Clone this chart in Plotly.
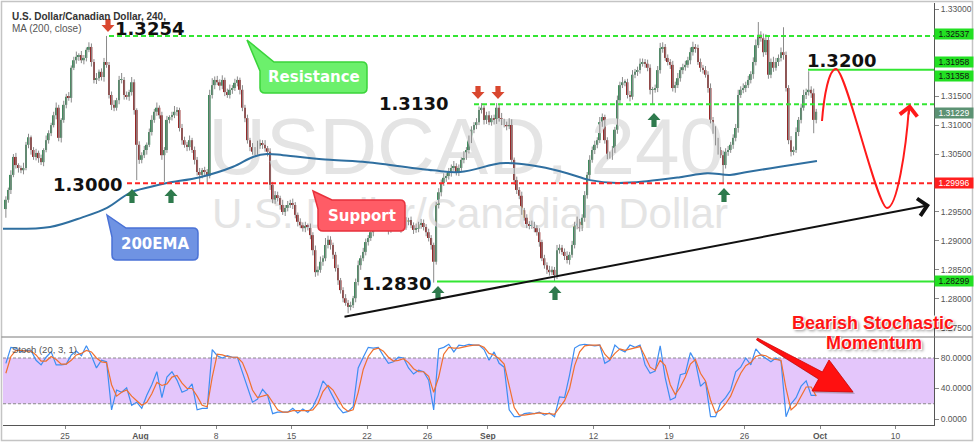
import plotly.graph_objects as go

# ---------------- data ----------------
BARS_PER_DAY = 6          # 240-minute candles
DAY0 = -4.0               # first candle day (0 = Mon 25 Jul)
PIP = 0.0001
FIRST_OPEN = 1.2955

CLOSE = [
 1.2971, 1.2988, 1.3014, 1.3045, 1.3031, 1.3026,
 1.3022, 1.3026, 1.3066, 1.3079, 1.3057, 1.3045,
 1.3052, 1.3043, 1.3036, 1.3057, 1.3074, 1.3086,
 1.3100, 1.3117, 1.3130, 1.3078, 1.3109, 1.3135,
 1.3149, 1.3147, 1.3199, 1.3212, 1.3218, 1.3221,
 1.3212, 1.3216, 1.3230, 1.3235, 1.3209, 1.3178,
 1.3181, 1.3192, 1.3183, 1.3209, 1.3204, 1.3152,
 1.3135, 1.3130, 1.3143, 1.3178, 1.3178, 1.3152,
 1.3149, 1.3157, 1.3174, 1.3126, 1.3066, 1.3040,
 1.3048, 1.3057, 1.3066, 1.3088, 1.3109, 1.3123,
 1.3130, 1.3117, 1.3048, 1.3057, 1.3109, 1.3114,
 1.3117, 1.3123, 1.3126, 1.3095, 1.3074, 1.3066,
 1.3062, 1.3074, 1.3057, 1.3040, 1.3019, 1.3014,
 1.3022, 1.3019, 1.3012, 1.3152, 1.3169, 1.3178,
 1.3174, 1.3168, 1.3178, 1.3157, 1.3152, 1.3161,
 1.3164, 1.3173, 1.3178, 1.3161, 1.3130, 1.3112,
 1.3074, 1.3062, 1.3054, 1.3057, 1.3064, 1.3069,
 1.3066, 1.3060, 1.3054, 1.2997, 1.2971, 1.2979,
 1.2974, 1.2962, 1.2950, 1.2957, 1.2962, 1.2965,
 1.2962, 1.2945, 1.2933, 1.2927, 1.2922, 1.2926,
 1.2924, 1.2910, 1.2884, 1.2846, 1.2850, 1.2864,
 1.2870, 1.2893, 1.2902, 1.2893, 1.2876, 1.2853,
 1.2832, 1.2815, 1.2801, 1.2793, 1.2786, 1.2789,
 1.2801, 1.2829, 1.2858, 1.2870, 1.2881, 1.2898,
 1.2905, 1.2915, 1.2926, 1.2936, 1.2950, 1.2957,
 1.2941, 1.2927, 1.2919, 1.2926, 1.2933, 1.2936,
 1.2926, 1.2922, 1.2926, 1.2933, 1.2936, 1.2927,
 1.2919, 1.2921, 1.2929, 1.2931, 1.2924, 1.2915,
 1.2905, 1.2893, 1.2864, 1.2962, 1.2984, 1.3000,
 1.3009, 1.3012, 1.3019, 1.3026, 1.3029, 1.3019,
 1.3026, 1.3040, 1.3048, 1.3057, 1.3074, 1.3092,
 1.3100, 1.3105, 1.3126, 1.3130, 1.3109, 1.3117,
 1.3105, 1.3112, 1.3109, 1.3130, 1.3112, 1.3105,
 1.3102, 1.3098, 1.3105, 1.3040, 1.3005, 1.2988,
 1.2978, 1.2953, 1.2940, 1.2929, 1.2926, 1.2927,
 1.2922, 1.2915, 1.2898, 1.2870, 1.2858, 1.2850,
 1.2846, 1.2850, 1.2841, 1.2884, 1.2888, 1.2881,
 1.2874, 1.2867, 1.2876, 1.2893, 1.2927, 1.2933,
 1.2922, 1.2940, 1.2979, 1.3014, 1.3040, 1.3057,
 1.3066, 1.3074, 1.3105, 1.3114, 1.3074, 1.3048,
 1.3048, 1.3057, 1.3092, 1.3143, 1.3169, 1.3174,
 1.3174, 1.3152, 1.3149, 1.3187, 1.3192, 1.3195,
 1.3206, 1.3209, 1.3206, 1.3199, 1.3161, 1.3161,
 1.3164, 1.3195, 1.3233, 1.3235, 1.3216, 1.3209,
 1.3204, 1.3164, 1.3169, 1.3181, 1.3195, 1.3200,
 1.3204, 1.3212, 1.3226, 1.3235, 1.3233, 1.3209,
 1.3199, 1.3195, 1.3187, 1.3164, 1.3109, 1.3092,
 1.3071, 1.3057, 1.3048, 1.3031, 1.3054, 1.3057,
 1.3066, 1.3078, 1.3095, 1.3152, 1.3161, 1.3164,
 1.3169, 1.3178, 1.3188, 1.3209, 1.3238, 1.3256,
 1.3250, 1.3226, 1.3247, 1.3187, 1.3209, 1.3199,
 1.3209, 1.3216, 1.3226, 1.3221, 1.3164, 1.3074,
 1.3054, 1.3057, 1.3088, 1.3109, 1.3130, 1.3152,
 1.3157, 1.3161, 1.3155, 1.3109, 1.3123,
]

UP_WICK = [  # pips above the body
 6, 4, 8, 5, 7, 3,   4, 9, 5, 6, 3, 5,   7, 4, 6, 3, 8, 5,   4, 6, 9, 5, 3, 7,
 5, 8, 4, 6, 9, 3,   7, 5, 4, 8, 6, 5,   9, 4, 6, 7, 45, 5,  6, 8, 4, 7, 12, 5,
 6, 4, 9, 5, 3, 6,   5, 7, 4, 6, 8, 5,   9, 4, 6, 5, 7, 3,   6, 10, 5, 4, 7, 6,
 5, 8, 4, 6, 5, 7,   4, 6, 5, 9, 12, 6,  7, 5, 8, 4, 6, 9,   5, 7, 6, 4, 8, 5,
 6, 4, 7, 5, 9, 6,   5, 8, 4, 6, 5, 7,   6, 4, 9, 5, 7, 6,   8, 5, 4, 6, 5, 7,
 4, 6, 5, 8, 6, 9,   5, 12, 7, 6, 4, 5,  6, 4, 5, 7, 5, 6,   4, 6, 8, 5, 7, 6,
 5, 7, 6, 8, 10, 6,  5, 4, 8, 6, 9, 5,   7, 5, 6, 8, 4, 6,   5, 9, 4, 7, 6, 5,
 6, 5, 4, 5, 7, 6,   8, 5, 7, 6, 9, 5,   6, 4, 7, 5, 8, 6,   5, 7, 6, 8, 4, 6,
 7, 5, 6, 8, 5, 9,   6, 4, 7, 5, 4, 6,   5, 7, 4, 6, 5, 8,   6, 5, 7, 4, 6, 5,
 7, 6, 5, 9, 6, 5,   6, 8, 5, 7, 6, 9,   5, 6, 7, 5, 8, 6,   7, 5, 9, 6, 4, 5,
 6, 7, 5, 8, 6, 9,   5, 6, 7, 8, 5, 6,   9, 6, 5, 7, 6, 5,   6, 7, 9, 8, 5, 6,
 5, 7, 6, 9, 5, 6,   7, 6, 8, 9, 5, 6,   6, 5, 7, 6, 8, 5,   6, 7, 5, 8, 6, 7,
 5, 6, 7, 9, 6, 8,   6, 7, 5, 8, 10, 22, 6, 8, 10, 7, 6, 9,   7, 6, 8, 43, 6, 5,
 7, 6, 8, 5, 7, 9,   6, 32, 6, 8, 5,
]

DN_WICK = [  # pips below the body
 15, 5, 7, 4, 6, 8,  5, 7, 4, 6, 8, 5,   6, 8, 5, 7, 4, 6,   5, 4, 7, 6, 8, 5,
 6, 5, 8, 4, 6, 7,   5, 7, 6, 4, 8, 6,   7, 5, 6, 8, 5, 6,   9, 6, 5, 7, 6, 8,
 5, 7, 6, 8, 61, 7,  6, 5, 8, 4, 6, 5,   7, 6, 8, 46, 5, 6,  6, 5, 7, 6, 8, 5,
 7, 6, 5, 8, 6, 16,  6, 5, 14, 4, 6, 7,  5, 8, 6, 7, 5, 6,   7, 5, 6, 8, 6, 7,
 6, 7, 5, 6, 8, 5,   7, 6, 8, 9, 6, 7,   6, 8, 5, 7, 6, 5,   7, 6, 8, 5, 6, 7,
 6, 7, 9, 8, 6, 5,   7, 5, 6, 8, 7, 6,   8, 6, 7, 5, 11, 6,  5, 7, 6, 8, 5, 6,
 6, 5, 7, 6, 5, 8,   7, 6, 8, 5, 6, 7,   6, 8, 5, 7, 6, 5,   7, 5, 6, 8, 6, 7,
 6, 8, 36, 5, 6, 7,  5, 7, 6, 8, 5, 6,   7, 5, 6, 8, 6, 5,   6, 7, 5, 6, 8, 7,
 5, 6, 8, 7, 6, 5,   6, 7, 5, 6, 8, 7,   6, 8, 5, 7, 6, 5,   7, 6, 8, 5, 6, 7,
 6, 5, 11, 7, 6, 5,  7, 6, 8, 5, 6, 7,   6, 5, 7, 6, 8, 5,   7, 6, 5, 8, 6, 7,
 6, 8, 5, 7, 6, 5,   7, 6, 8, 5, 6, 7,   6, 5, 7, 6, 8, 26,  5, 7, 6, 8, 5, 6,
 7, 6, 8, 5, 6, 7,   6, 5, 7, 6, 8, 5,   7, 6, 5, 8, 6, 7,   6, 8, 5, 33, 6, 7,
 5, 7, 6, 8, 5, 6,   7, 5, 6, 8, 6, 5,   6, 8, 5, 7, 6, 7,   5, 7, 6, 8, 6, 7,
 8, 6, 5, 7, 6, 5,   7, 6, 8, 23, 6,
]

# 200-period moving average (value read at these days)
MA_DAY = [-4.11, -0.99, 1.19, 2.78, 4.30, 5.63, 6.75, 8.94, 11.13, 12.45, 13.38, 14.44,
          17.55, 20.00, 24.37, 26.16, 28.81, 29.67, 31.46, 33.25, 34.77, 36.56, 38.54,
          40.73, 42.52, 44.04, 45.17, 47.35, 49.80]
MA_VAL = [1.2921, 1.2924, 1.2941, 1.2957, 1.2983, 1.2993, 1.3000, 1.3010, 1.3028, 1.3045,
          1.3050, 1.3048, 1.3040, 1.3036, 1.3022, 1.3019, 1.3034, 1.3034, 1.3028, 1.3017,
          1.3005, 1.3000, 1.3003, 1.3010, 1.3017, 1.3014, 1.3019, 1.3028, 1.3038]

# Stochastic (20,3,1), one value every second candle
STOCH_K = [
 73, 94, 93, 88, 90, 90, 77, 71, 81, 88,
 71, 71, 72, 84, 89, 83, 96, 83, 67, 77,
 75, 12, 38, 35, 41, 18, 22, 14, 31, 45,
 62, 28, 55, 62, 51, 35, 38, 46, 12, 14,
 14, 91, 83, 80, 83, 81, 81, 62, 41, 22,
 26, 39, 31, 7, 9, 9, 9, 14, 8, 13,
 9, 16, 30, 50, 42, 29, 16, 8, 10, 16,
 67, 81, 94, 93, 94, 83, 73, 75, 81, 80,
 67, 59, 64, 62, 51, 12, 92, 94, 98, 88,
 97, 96, 98, 97, 97, 91, 77, 88, 73, 68,
 12, 3, 3, 7, 8, 7, 9, 5, 8, 3,
 29, 28, 58, 93, 97, 98, 97, 96, 97, 73,
 77, 97, 91, 88, 97, 94, 97, 71, 60, 63,
 96, 54, 25, 28, 58, 60, 87, 75, 43, 49,
 3, 3, 21, 28, 38, 62, 68, 80, 71, 92,
 84, 80, 75, 80, 76, 3, 20, 28, 43, 50,
 31, 31,
]
STOCH_D = [
 60, 82, 90, 90, 89, 89, 84, 76, 76, 82,
 78, 72, 72, 77, 84, 86, 90, 88, 80, 75,
 74, 45, 30, 35, 38, 30, 24, 18, 22, 33,
 48, 44, 46, 55, 57, 47, 40, 40, 30, 18,
 16, 55, 85, 84, 82, 81, 81, 74, 58, 38,
 28, 30, 32, 22, 12, 9, 9, 11, 11, 11,
 11, 12, 20, 36, 44, 38, 26, 15, 10, 12,
 35, 65, 82, 91, 93, 89, 81, 76, 77, 79,
 74, 66, 62, 62, 56, 35, 55, 85, 94, 93,
 93, 95, 96, 97, 97, 94, 86, 84, 79, 72,
 45, 15, 5, 5, 6, 7, 8, 7, 7, 6,
 15, 24, 40, 70, 88, 96, 97, 97, 97, 85,
 78, 86, 92, 90, 92, 94, 95, 82, 68, 64,
 77, 70, 45, 32, 42, 55, 72, 78, 60, 50,
 25, 8, 12, 20, 30, 46, 60, 70, 74, 82,
 84, 83, 79, 78, 77, 40, 12, 18, 30, 42,
 42, 30,
]

TICK_DAY = [0, 5, 10, 15, 20, 24, 28, 35, 40, 45, 50, 55]
TICK_TEXT = ["25", "<b>Aug</b>", "8", "15", "22", "26", "<b>Sep</b>", "12", "19", "26", "<b>Oct</b>", "10"]
PRICE_TICKS = [1.275, 1.280, 1.285, 1.290, 1.295, 1.305, 1.310, 1.315, 1.330]
STOCH_TICKS = [0, 40, 80]

RESIST_HI = 1.32537
RESIST_MID = 1.31358
TARGET = 1.31958
SUPPORT = 1.29996
SUPPORT_LO = 1.28299
LAST = 1.31229

# ---------------- pixel helpers for drawings ----------------
def DX(px):   # pixel x -> day
    return (px - 65) / 15.1

def PYv(py):  # pixel y -> price
    return 1.30 + (183 - py) / 5790

def SYv(py):  # pixel y -> stochastic value
    return (419 - py) * 80 / 61

def PXp(px):  # pixel -> paper
    return (px - 3) / 931

def PYp(py):
    return (425 - py) / 422

def P(px, py):
    return f"{PXp(px):.5f},{PYp(py):.5f}"

X0, X1 = DX(3), DX(934)
SPLIT = (425 - 337) / 422

# ---------------- candles ----------------
n = len(CLOSE)
opens = [FIRST_OPEN] + CLOSE[:-1]
bar_x = [DAY0 + (k + 0.5) / BARS_PER_DAY for k in range(n)]
highs = [max(o, c) + u * PIP for o, c, u in zip(opens, CLOSE, UP_WICK)]
lows = [min(o, c) - d * PIP for o, c, d in zip(opens, CLOSE, DN_WICK)]
bases = [min(o, c) for o, c in zip(opens, CLOSE)]
heights = [max(abs(c - o), 0.00007) for o, c in zip(opens, CLOSE)]
colors = ["#3f8a5c" if c >= o else "#962626" for o, c in zip(opens, CLOSE)]

wx, wy = [], []
for x, lo, hi in zip(bar_x, lows, highs):
    wx += [x, x, None]
    wy += [lo, hi, None]

stoch_x = bar_x[0::2]

fig = go.Figure()

# watermark (drawn first so it sits behind the candles)
fig.add_trace(go.Scatter(x=[DX(466)], y=[PYv(154)], mode="text", text=["USDCAD, 240"],
                         textfont=dict(family="Liberation Sans", size=80, color="#e4e4e4"),
                         hoverinfo="skip", yaxis="y"))
fig.add_trace(go.Scatter(x=[DX(470)], y=[PYv(217)], mode="text", text=["U.S. Dollar/Canadian Dollar"],
                         textfont=dict(family="Liberation Sans", size=42, color="#e4e4e4"),
                         hoverinfo="skip", yaxis="y"))

fig.add_trace(go.Scatter(x=wx, y=wy, mode="lines", line=dict(color="#8a8a8a", width=1),
                         hoverinfo="skip", yaxis="y"))
fig.add_trace(go.Bar(x=bar_x, y=heights, base=bases, width=0.125, marker=dict(color=colors, line=dict(width=0)),
                     yaxis="y", hoverinfo="skip"))
fig.add_trace(go.Scatter(x=MA_DAY, y=MA_VAL, mode="lines", line=dict(color="#2f6fa0", width=2, shape="spline"),
                         yaxis="y", hoverinfo="skip"))

fig.add_trace(go.Scatter(x=stoch_x, y=STOCH_K, mode="lines", line=dict(color="#3d8ef2", width=1.2),
                         yaxis="y2", hoverinfo="skip"))
fig.add_trace(go.Scatter(x=stoch_x, y=STOCH_D, mode="lines", line=dict(color="#f0702e", width=1.2),
                         yaxis="y2", hoverinfo="skip"))

# ---------------- shapes ----------------
GREEN = "#33e633"
RED = "#ff2525"
shapes = []
shapes.append(dict(type="rect", xref="x", yref="y2", x0=X0, x1=X1, y0=20, y1=80,
                   fillcolor="#e4c6fb", line=dict(width=0), layer="below"))
for lv in (20, 80):
    shapes.append(dict(type="line", xref="x", yref="y2", x0=X0, x1=X1, y0=lv, y1=lv,
                       line=dict(color="#8a8a8a", width=1, dash="3px,2px"), layer="below"))

def hline(y, x0, color, dash):
    return dict(type="line", xref="x", yref="y", x0=x0, x1=X1, y0=y, y1=y,
                line=dict(color=color, width=2, dash=dash))

shapes.append(hline(RESIST_HI, DX(109), GREEN, "5px,3px"))
shapes.append(hline(RESIST_MID, DX(474), GREEN, "5px,3px"))
shapes.append(hline(SUPPORT, DX(127), RED, "5px,3px"))
shapes.append(hline(SUPPORT_LO, DX(437), GREEN, "solid"))
shapes.append(hline(TARGET, DX(808), GREEN, "solid"))

# frame and panel separator
shapes.append(dict(type="rect", xref="paper", yref="paper", x0=PXp(1.5), x1=PXp(972.5),
                   y0=PYp(440.5), y1=PYp(1.5), line=dict(color="#c4c4c4", width=1.5)))
shapes.append(dict(type="line", xref="paper", yref="paper", x0=PXp(1.5), x1=PXp(972.5),
                   y0=PYp(337), y1=PYp(337), line=dict(color="#7a7a7a", width=1)))

def callout(x0, y0, x1, y1, tip, fill, border, r=5):
    tx, ty = tip
    path = (f"M {P(tx, ty)} L {P(x0 + 14, y0)} L {P(x1 - r, y0)} Q {P(x1, y0)} {P(x1, y0 + r)} "
            f"L {P(x1, y1 - r)} Q {P(x1, y1)} {P(x1 - r, y1)} L {P(x0 + r, y1)} Q {P(x0, y1)} {P(x0, y1 - r)} "
            f"L {P(x0, y0 + 9)} Z")
    return dict(type="path", xref="paper", yref="paper", path=path, fillcolor=fill,
                line=dict(color=border, width=1.5))

shapes.append(callout(260, 62, 367, 93, (247, 40), "#6cf06c", "#3ad43a"))
shapes.append(callout(318, 200, 405, 231, (313, 191), "#ff5c66", "#e8313c"))
shapes.append(callout(112, 228, 198, 260, (107, 215), "#6f93e3", "#4a72d6"))

def block_arrow(cx, ytop, ybot, up, color):
    hw, sw, hh = 6.5, 2.6, 7
    if up:
        pts = [(cx, ytop), (cx + hw, ytop + hh), (cx + sw, ytop + hh), (cx + sw, ybot),
               (cx - sw, ybot), (cx - sw, ytop + hh), (cx - hw, ytop + hh)]
    else:
        pts = [(cx, ybot), (cx + hw, ybot - hh), (cx + sw, ybot - hh), (cx + sw, ytop),
               (cx - sw, ytop), (cx - sw, ybot - hh), (cx - hw, ybot - hh)]
    return dict(type="path", xref="paper", yref="paper",
                path="M " + " L ".join(P(x, y) for x, y in pts) + " Z",
                fillcolor=color, line=dict(width=0))

for cx, yt in [(132, 189), (171, 189), (438, 286), (555, 286), (654, 113), (724, 188)]:
    shapes.append(block_arrow(cx, yt, yt + 14, True, "#2e7a4d"))
for cx, yt in [(108, 19), (478, 86), (498, 86)]:
    shapes.append(block_arrow(cx, yt, yt + 13, False, "#d9472f"))

# projected path (red curve)
curve = (f"M {P(822, 121)} C {P(824, 95)} {P(829, 69)} {P(836, 69)} "
         f"C {P(846, 69)} {P(877, 208)} {P(887, 208)} "
         f"C {P(897, 208)} {P(906, 150)} {P(909, 107)}")
shapes.append(dict(type="path", xref="paper", yref="paper", path=curve,
                   line=dict(color="#ff1a1a", width=2)))

# big red arrow in the stochastic panel (with soft shadow)
arrow_pts = [(757.5, 338.1), (822.4, 372), (829, 360), (853, 392), (812, 391), (818.6, 379), (756.5, 339.9)]
shadow = "M " + " L ".join(P(x + 2, y + 2) for x, y in arrow_pts) + " Z"
shapes.append(dict(type="path", xref="paper", yref="paper", path=shadow,
                   fillcolor="rgba(90,90,90,0.35)", line=dict(width=0)))
shapes.append(dict(type="path", xref="paper", yref="paper",
                   path="M " + " L ".join(P(x, y) for x, y in arrow_pts) + " Z",
                   fillcolor="#ff1010", line=dict(color="#d00000", width=0.8)))

# ---------------- annotations ----------------
ann = []
BIG = dict(family="DejaVu Sans", size=18, color="#111111", weight="bold")

def txt(px, py, text, font, xanchor="center"):
    return dict(xref="paper", yref="paper", x=PXp(px), y=PYp(py), text=text, showarrow=False,
                xanchor=xanchor, yanchor="middle", font=font)

ann.append(txt(10, 16, "U.S. Dollar/Canadian Dollar, 240,", dict(family="Liberation Sans", size=10, color="#333333", weight="bold"), "left"))
ann.append(txt(10, 29, "MA (200, close)", dict(family="Liberation Sans", size=10, color="#555555"), "left"))
ann.append(txt(10, 349, "Stoch (20, 3, 1)", dict(family="Liberation Sans", size=9.5, color="#555555"), "left"))

ann.append(txt(149, 28, "1.3254", BIG))
ann.append(txt(87, 184, "1.3000", BIG))
ann.append(txt(413, 103, "1.3130", BIG))
ann.append(txt(396, 283, "1.2830", BIG))
ann.append(txt(841, 60, "1.3200", BIG))

BOX = dict(family="DejaVu Sans", size=15, color="white", weight="bold")
ann.append(txt(313.5, 77.5, "Resistance", BOX))
ann.append(txt(361.5, 215.5, "Support", BOX))
ann.append(txt(155, 244, "200EMA", BOX))

RF = dict(family="Liberation Sans", size=18, color="#ff1414", weight="bold",
          shadow="1px 1px 0px #ffffff, -1px -1px 0px #ffffff, 2px 2px 3px rgba(0,0,0,0.45)")
ann.append(txt(873, 323, "Bearish Stochastic", RF))
ann.append(txt(874, 343, "Momentum", RF))

# trend line with open arrow head
ann.append(dict(xref="paper", yref="paper", x=PXp(930), y=PYp(205), ax=343 - 930, ay=317 - 205,
                axref="pixel", ayref="pixel", text="", showarrow=True, arrowhead=4, arrowsize=1.7,
                arrowwidth=2, arrowcolor="#111111"))
# arrow head of the projected path
ann.append(dict(xref="paper", yref="paper", x=PXp(910), y=PYp(104), ax=-1.5, ay=12,
                text="", showarrow=True, arrowhead=4, arrowsize=1.7, arrowwidth=2, arrowcolor="#ff1a1a"))

# price tags on the right axis
def tag(py, text, bg, fg):
    return dict(xref="paper", yref="paper", x=1.0, y=PYp(py), xanchor="left", yanchor="middle",
                text=text, showarrow=False, bgcolor=bg, width=38, height=10, borderpad=0,
                font=dict(family="Liberation Sans", size=8.5, color=fg), align="center")

ann.append(tag(34, f"{RESIST_HI:.5f}", "#22e022", "#111111"))
ann.append(tag(62, f"{TARGET:.5f}", "#22e022", "#111111"))
ann.append(tag(75.5, f"{RESIST_MID:.5f}", "#22e022", "#111111"))
ann.append(tag(112.5, f"{LAST:.5f}", "#5c9273", "#ffffff"))
ann.append(tag(182.5, f"{SUPPORT:.5f}", "#ff1f1f", "#ffffff"))
ann.append(tag(280.5, f"{SUPPORT_LO:.5f}", "#22e022", "#111111"))

AX_FONT = dict(family="Liberation Sans", size=8.5, color="#555555")
fig.update_layout(
    width=975, height=443, margin=dict(l=3, r=41, t=3, b=18),
    paper_bgcolor="white", plot_bgcolor="white", showlegend=False,
    barmode="overlay", hovermode=False,
    font=dict(family="Liberation Sans"),
    xaxis=dict(range=[X0, X1], anchor="y2", tickvals=TICK_DAY, ticktext=TICK_TEXT,
               ticks="outside", ticklen=3, tickcolor="#888888", showgrid=False, zeroline=False,
               showline=True, linecolor="#555555", linewidth=1, tickfont=AX_FONT, fixedrange=True),
    yaxis=dict(domain=[SPLIT, 1], range=[PYv(337), PYv(3)], side="right", anchor="x",
               tickvals=PRICE_TICKS, ticktext=[f"{v:.5f}" for v in PRICE_TICKS],
               ticks="outside", ticklen=4, tickcolor="#888888", showgrid=False, zeroline=False,
               showline=True, linecolor="#555555", linewidth=1, tickfont=AX_FONT),
    yaxis2=dict(domain=[0, SPLIT], range=[SYv(425), SYv(337)], side="right", anchor="x",
                tickvals=STOCH_TICKS, ticktext=[f"{v:.4f}" for v in STOCH_TICKS],
                ticks="outside", ticklen=4, tickcolor="#888888", showgrid=False, zeroline=False,
                showline=True, linecolor="#555555", linewidth=1, tickfont=AX_FONT),
    shapes=shapes, annotations=ann,
)

# the page's default 8px body margin would shift the figure; remove it
fig.write_html("out.html", config={"displayModeBar": False},
               post_script="document.body.style.margin='0px';document.body.style.overflow='hidden';")
